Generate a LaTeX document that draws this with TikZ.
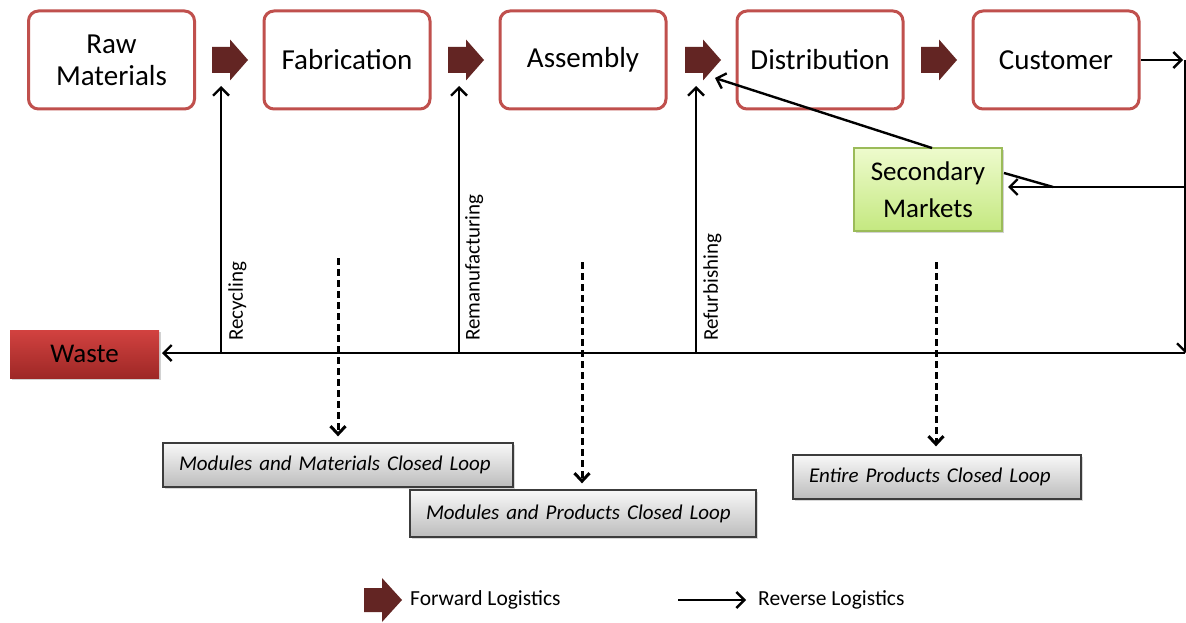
\documentclass[tikz,border=0pt]{standalone}
\usepackage{fontspec}
\setmainfont{Carlito}
\usetikzlibrary{arrows.meta,shadows}

\definecolor{stageborder}{RGB}{192,80,77}
\definecolor{fwd}{RGB}{99,37,35}
\definecolor{smtop}{RGB}{238,251,205}
\definecolor{smbot}{RGB}{196,232,128}
\definecolor{smborder}{RGB}{155,187,89}
\definecolor{wastetop}{RGB}{210,66,64}
\definecolor{wastebot}{RGB}{158,40,38}
\definecolor{looptop}{RGB}{248,248,248}
\definecolor{loopbot}{RGB}{188,188,188}
\definecolor{loopborder}{RGB}{60,60,60}

\tikzset{
  stagebox/.style={draw=stageborder, line width=3pt, rounded corners=10pt,
    fill=white, minimum width=166pt, minimum height=98pt, inner sep=0pt,
    align=center, font=\fontsize{29}{32}\selectfont},
  marketbox/.style={draw=smborder, line width=1.2pt, top color=smtop,
    bottom color=smbot, minimum width=148pt, minimum height=83pt,
    inner sep=0pt, align=center, font=\fontsize{27}{37}\selectfont,
    drop shadow={shadow xshift=2pt, shadow yshift=-2pt, opacity=.35}},
  wastebox/.style={top color=wastetop, bottom color=wastebot,
    minimum width=149pt, minimum height=48pt, inner sep=0pt,
    font=\fontsize{27}{30}\selectfont,
    drop shadow={shadow xshift=2pt, shadow yshift=-2pt, opacity=.35}},
  loopbox/.style={draw=loopborder, line width=1.3pt, top color=looptop,
    bottom color=loopbot, inner xsep=16pt, inner ysep=0pt, align=left,
    font=\fontsize{21}{24}\selectfont\itshape,
    drop shadow={shadow xshift=2pt, shadow yshift=-2pt, opacity=.3}},
  processlabel/.style={rotate=90, anchor=north west, inner sep=0pt,
    font=\fontsize{21}{24}\selectfont},
  legendtext/.style={anchor=west, inner sep=0pt,
    font=\fontsize{21.5}{24}\selectfont},
  rev/.style={line width=2.4pt, -{Straight Barb[length=8pt,width=16pt]}},
  revplain/.style={line width=2.4pt},
  loopflow/.style={line width=3pt, dash pattern=on 7pt off 4pt,
    -{Straight Barb[length=8pt,width=15pt]}},
  fwdarrow/.pic={\fill[fwd] (0,-13) -- (18,-13) -- (18,-20.5) -- (36,0)
    -- (18,20.5) -- (18,13) -- (0,13) -- cycle;}
}

\begin{document}
\begin{tikzpicture}[x=1pt,y=-1pt]
\clip (0,0) rectangle (1186,623);
\fill[white] (0,0) rectangle (1186,623);

% supply chain stages
\node[stagebox] (raw)  at (111.5,60) {Raw\\Materials};
\node[stagebox] (fab)  at (347,60)   {Fabrication};
\node[stagebox] (asm)  at (583,60)   {Assembly};
\node[stagebox] (dist) at (820,60)   {Distribution};
\node[stagebox] (cust) at (1056,60)  {Customer};

% forward logistics arrows between stages
\pic at (212,60) {fwdarrow};
\pic at (448,60) {fwdarrow};
\pic at (685,60) {fwdarrow};
\pic at (921,60) {fwdarrow};

% secondary markets and waste
\node[marketbox] (sec) at (928,189.5) {Secondary\\Markets};
\node[wastebox] (waste) at (84.5,354) {Waste};

% closed loop boxes
\node[loopbox, minimum width=350pt, minimum height=44pt, text width=318pt]
  (mml) at (338,465) {Modules and Materials Closed Loop};
\node[loopbox, minimum width=346pt, minimum height=47pt, text width=314pt]
  (mpl) at (583,513.5) {Modules and Products Closed Loop};
\node[loopbox, minimum width=288pt, minimum height=44pt, text width=256pt]
  (epl) at (937,477) {Entire Products Closed Loop};

% return path coordinates
\coordinate (rtop)  at (1183,60);
\coordinate (rtopv) at (1185,60);
\coordinate (rbot)  at (1185,353);
\coordinate (rsec)  at (1185,187);
\coordinate (secin) at (1008,187);
\coordinate (secj)  at (1053,187);
\coordinate (secne) at (1004,173);
\coordinate (sectop) at (932,148);
\coordinate (distin) at (715,78);
\coordinate (wend)  at (162,353);

\coordinate (rec0) at (221,353);  \coordinate (rec1) at (221,86);
\coordinate (rem0) at (459,353);  \coordinate (rem1) at (459,86);
\coordinate (ref0) at (696,353);  \coordinate (ref1) at (696,86);

% reverse logistics
\draw[rev] (cust.east) -- (rtop);
\draw[rev] (rtopv) -- (rbot);
\draw[rev] (rbot) -- (wend);
\draw[rev] (rec0) -- (rec1);
\draw[rev] (rem0) -- (rem1);
\draw[rev] (ref0) -- (ref1);
\draw[rev] (rsec) -- (secin);
\draw[revplain] (secj) -- (secne);
\draw[rev] (sectop) -- (distin);

% process labels
\node[processlabel] (lrec) at (228,341) {Recycling};
\node[processlabel] (lrem) at (465,341) {Remanufacturing};
\node[processlabel] (lref) at (703,341) {Refurbishing};

% closed loop pointers
\coordinate (d1) at (338,258); \coordinate (d2) at (582,262); \coordinate (d3) at (936,262);
\draw[loopflow] (d1) -- ([yshift=6pt]mml.north -| d1);
\draw[loopflow] (d2) -- ([yshift=6pt]mpl.north -| d2);
\draw[loopflow] (d3) -- ([yshift=8pt]epl.north -| d3);

% legend
\fill[fwd] (364,588) -- (382,588) -- (382,578) -- (402,600) -- (382,622)
  -- (382,612) -- (364,612) -- cycle;
\node[legendtext] (lfwd) at (410,600) {Forward Logistics};
\coordinate (lg1) at (678,600); \coordinate (lg2) at (746,600);
\draw[rev] (lg1) -- (lg2);
\node[legendtext] (lrev) at (758,600) {Reverse Logistics};
\end{tikzpicture}
\end{document}
